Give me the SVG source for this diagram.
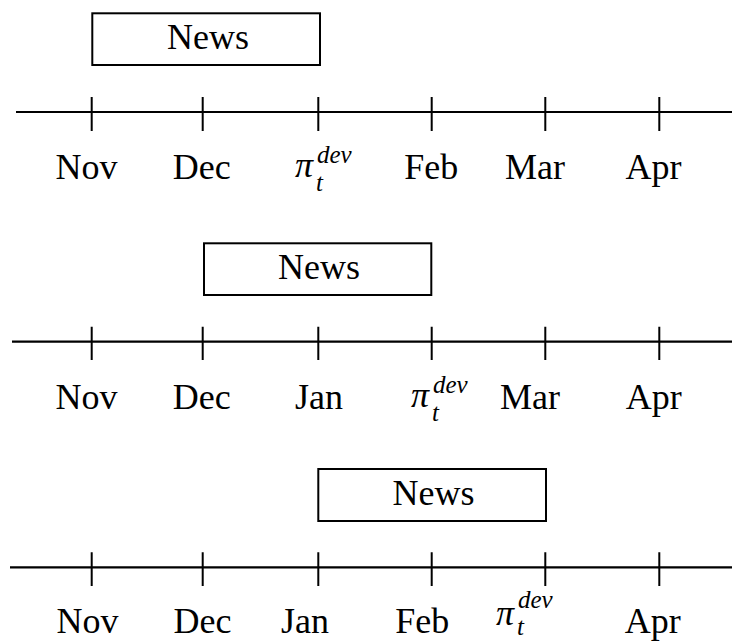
<svg xmlns="http://www.w3.org/2000/svg" width="732" height="641" viewBox="0 0 732 641">
<style>
.ax{stroke:#000;stroke-width:2.2;fill:none}
.tk{stroke:#000;stroke-width:2;fill:none}
.box{stroke:#000;stroke-width:2;fill:#fff}
.t{font-family:"Liberation Serif","DejaVu Serif",serif;font-size:36px;fill:#000;text-anchor:middle}
.pi{font-family:"Liberation Serif","DejaVu Serif",serif;font-size:36px;font-style:italic;fill:#000}
.sc{font-family:"Liberation Serif","DejaVu Serif",serif;font-size:25px;font-style:italic;fill:#000}
</style>
<g id="timeline1">
<line class="ax" x1="16" y1="112" x2="732" y2="112"/>
<path class="tk" d="M91.7 97V131M202.7 97V131M318.3 97V131M431.7 97V131M545.3 97V131M659.3 97V131"/>
<g id="news1"><rect class="box" x="92.3" y="13.3" width="227.7" height="51.7"/><text class="t" x="208" y="49">News</text></g>
<text class="t" x="86.5" y="179">Nov</text>
<text class="t" x="201.7" y="179">Dec</text>
<text class="pi" x="295" y="177">π</text><text class="sc" x="317" y="163">dev</text><text class="sc" x="316" y="191">t</text>
<text class="t" x="431.3" y="179">Feb</text>
<text class="t" x="535" y="179">Mar</text>
<text class="t" x="653.5" y="179">Apr</text>
</g>
<g id="timeline2">
<line class="ax" x1="12" y1="341.7" x2="732" y2="341.7"/>
<path class="tk" d="M91.7 326.7V360M202.7 326.7V360M318.3 326.7V360M431.7 326.7V360M545.3 326.7V360M659.3 326.7V360"/>
<g id="news2"><rect class="box" x="204" y="243.3" width="227.3" height="51.7"/><text class="t" x="319" y="279">News</text></g>
<text class="t" x="86.5" y="409">Nov</text>
<text class="t" x="201.7" y="409">Dec</text>
<text class="t" x="319" y="409">Jan</text>
<text class="pi" x="411" y="407">π</text><text class="sc" x="433" y="393">dev</text><text class="sc" x="432" y="421">t</text>
<text class="t" x="530" y="409">Mar</text>
<text class="t" x="653.8" y="409">Apr</text>
</g>
<g id="timeline3">
<line class="ax" x1="10" y1="567.3" x2="732" y2="567.3"/>
<path class="tk" d="M91.7 552.3V586M202.7 552.3V586M318.3 552.3V586M431.7 552.3V586M545.3 552.3V586M659.3 552.3V586"/>
<g id="news3"><rect class="box" x="318.3" y="469" width="227.7" height="52"/><text class="t" x="433.5" y="505">News</text></g>
<text class="t" x="87.5" y="633">Nov</text>
<text class="t" x="202.5" y="633">Dec</text>
<text class="t" x="305" y="633">Jan</text>
<text class="t" x="422.3" y="633">Feb</text>
<text class="pi" x="496" y="625">π</text><text class="sc" x="518" y="608">dev</text><text class="sc" x="517" y="635">t</text>
<text class="t" x="652.7" y="633">Apr</text>
</g>
</svg>
